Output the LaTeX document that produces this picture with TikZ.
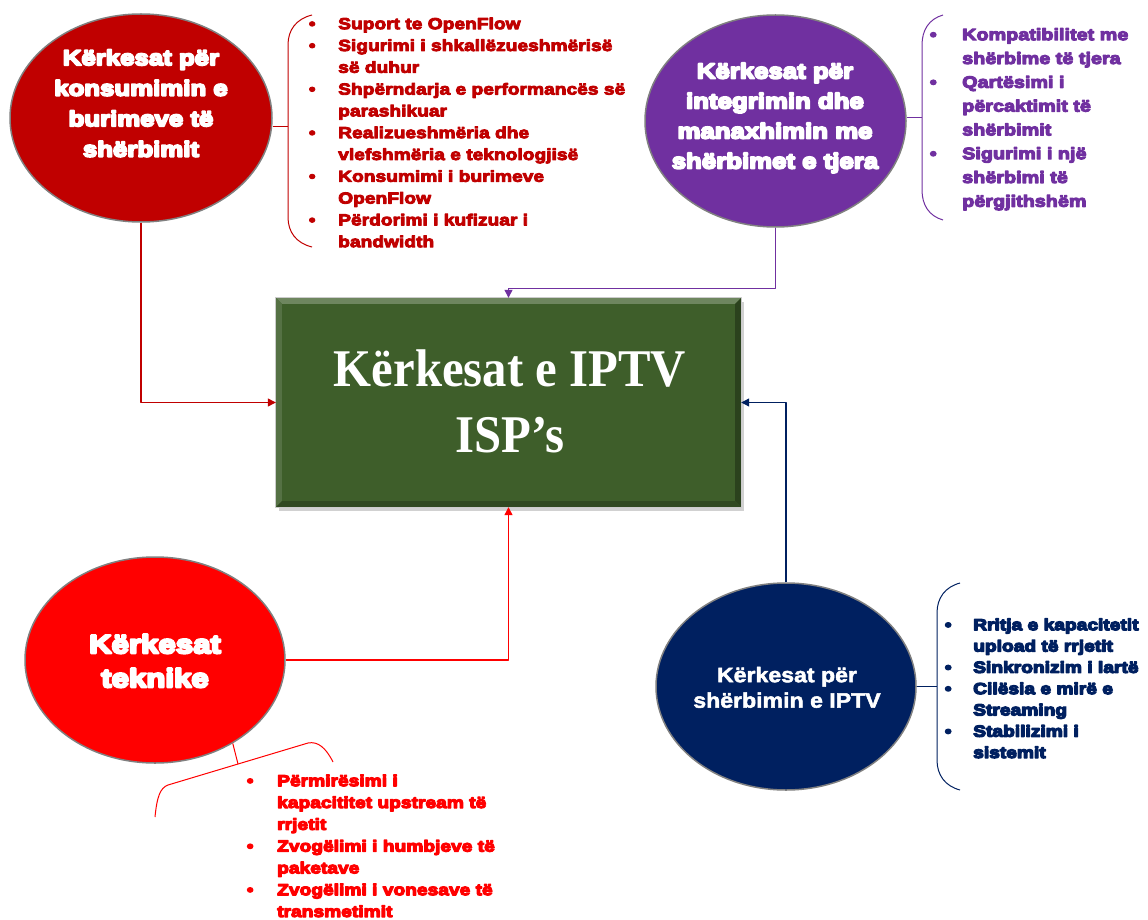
\documentclass[tikz,border=0pt]{standalone}
\usepackage{fontspec}
\usetikzlibrary{shapes.geometric,arrows.meta}
% widened bold sans, a plain bold sans and a bold serif
\newfontfamily\heavyfont{Liberation Sans Bold}[FakeStretch=1.2]
\newfontfamily\boldfont{Liberation Sans Bold}[FakeStretch=1.1]
\newfontfamily\titlefont{Liberation Serif Bold}[FakeStretch=0.92]

% thicken glyphs by stroking their outlines as well as filling them
\newcommand\thicken[1]{\special{pdf:literal direct 2 Tr 1 j #1 w}}
\newcommand\unthicken{\special{pdf:literal direct 0 Tr}}

\definecolor{cdred}{HTML}{C00000}
\definecolor{cpurple}{HTML}{7030A0}
\definecolor{cred}{HTML}{FF0000}
\definecolor{cnavy}{HTML}{002060}
\definecolor{cgreen}{HTML}{3E5E2A}

% bulleted paragraph with hanging indent; \bw is the gap from bullet to text,
% \nl breaks a line inside the same item
\newlength\bw
\newcommand\nl{\hfil\break}
\newcommand\bitem[1]{\noindent\hangindent=\bw\hangafter=1\makebox[\bw][l]{\textbullet}#1\par}

\begin{document}
\begin{tikzpicture}[x=1pt,y=-1pt,line join=round]
\useasboundingbox (0,0) rectangle (1148,920);
\tikzset{
  bubble/.style={ellipse,inner sep=0pt,draw=black!50,line width=1.5pt},
  bubbletext/.style={text=white,align=center,inner sep=0pt,anchor=north},
  heavy/.style={execute at begin node={\thicken{#1}},execute at end node={\unthicken}},
  itemlist/.style={align=left,text width=400pt,inner sep=0pt,anchor=north west,
    execute at begin node={\hyphenpenalty=10000\exhyphenpenalty=10000\thicken{#1}},
    execute at end node={\unthicken}},
  itemlist/.default=1.1,
  link/.style={line width=1.2pt},
  arrowed/.style={-{Triangle[length=8pt,width=8pt]}},
  bracket/.style={line width=1pt}
}

% ---------- central box ----------
\fill[black!18] (279,302) rectangle (744,511);
\node[fill=cgreen,inner sep=0pt,minimum width=465pt,minimum height=209pt] (isp) at (508.5,402.5) {};
\fill[cgreen!75!white] (isp.north west) -- (isp.north east) -- ([shift={(-6,6)}]isp.north east) -- ([shift={(6,6)}]isp.north west) -- cycle;
\fill[cgreen!88!white] (isp.north west) -- ([shift={(6,6)}]isp.north west) -- ([shift={(6,-6)}]isp.south west) -- (isp.south west) -- cycle;
\fill[cgreen!70!black] (isp.north east) -- (isp.south east) -- ([shift={(-6,-6)}]isp.south east) -- ([shift={(-6,6)}]isp.north east) -- cycle;
\fill[cgreen!78!black] (isp.south west) -- (isp.south east) -- ([shift={(-6,-6)}]isp.south east) -- ([shift={(6,-6)}]isp.south west) -- cycle;
\draw[black!20,line width=0.8pt] (isp.north west) rectangle (isp.south east);
\node[bubbletext,font=\titlefont\fontsize{53}{66}\selectfont] (ispT) at (510,339.8)
  {\strut Kërkesat e IPTV\\ISP’s};

% ---------- ellipses ----------
\node[bubble,fill=cdred,minimum width=262pt,minimum height=208pt] (res) at (141,118) {};
\node[bubbletext,heavy=1.9,font=\heavyfont\fontsize{21.5}{30.5}\selectfont] (resT) at (141,43.6)
  {\strut Kërkesat për\\konsumimin e\\burimeve të\\shërbimit};

\node[bubble,fill=cpurple,minimum width=261pt,minimum height=212pt] (int) at (775.5,121) {};
\node[bubbletext,heavy=1.9,font=\heavyfont\fontsize{21.5}{30}\selectfont] (intT) at (775,57.3)
  {\strut Kërkesat për\\integrimin dhe\\manaxhimin me\\shërbimet e tjera};

\node[bubble,fill=cred,minimum width=260pt,minimum height=206pt] (tech) at (155,660) {};
\node[bubbletext,heavy=2.3,font=\heavyfont\fontsize{26}{34}\selectfont] (techT) at (155,629.2)
  {\strut Kërkesat\\teknike};

\node[bubble,fill=cnavy,minimum width=260pt,minimum height=207pt] (svc) at (786,686.5) {};
\node[bubbletext,heavy=0.5,font=\boldfont\fontsize{21}{25.5}\selectfont] (svcT) at (787,664.15)
  {\strut Kërkesat për\\shërbimin e IPTV};

% ---------- connectors into the box ----------
\draw[link,cdred,arrowed] (res.south) |- (isp.west);
\draw[link,cpurple,arrowed] (int.south) -- ++(0,61) -| (isp.north);
\draw[link,cred,arrowed] (tech.east) -| (isp.south);
\draw[link,cnavy,arrowed] (svc.north) |- (isp.east);

% ---------- brackets ----------
\coordinate (resB) at (288,127);
\draw[bracket,cdred] (resB -| res.east) -- (resB);
\draw[bracket,cdred] (312,15) .. controls (296,19) and (288,30) .. (288,45) -- (288,217) .. controls (288,232) and (296,243) .. (312,247);

\coordinate (intB) at (922,118);
\draw[bracket,cpurple] (intB -| int.east) -- (intB);
\draw[bracket,cpurple] (943,15) .. controls (929,19) and (922,30) .. (922,45) -- (922,190) .. controls (922,205) and (929,216) .. (943,220);

\coordinate (svcB) at (937,686.5);
\draw[bracket,cnavy] (svc.east) -- (svcB);
\draw[bracket,cnavy] (960,583) .. controls (945,587) and (937,598) .. (937,613) -- (937,760) .. controls (937,775) and (945,786) .. (960,790);

\coordinate (techB) at (238,764);
\draw[bracket,cred] (tech.-47) -- (techB);
\draw[bracket,cred] (155,817) .. controls (157,797) and (160,788) .. (168,785) -- (308,743) .. controls (318,741) and (326,748) .. (333,762);

% ---------- item lists ----------
\node[itemlist=0.9,text=cdred,font=\heavyfont\fontsize{16}{21.8}\selectfont\setlength\bw{29.4pt}] (resL) at (308.6,13.74) {%
  \bitem{\strut Suport te OpenFlow}
  \bitem{Sigurimi i shkallëzueshmërisë\nl së duhur}
  \bitem{Shpërndarja e performancës së\nl parashikuar}
  \bitem{Realizueshmëria dhe\nl vlefshmëria e teknologjisë}
  \bitem{Konsumimi i burimeve\nl OpenFlow}
  \bitem{Përdorimi i kufizuar i\nl bandwidth}};

\node[itemlist,text=cpurple,font=\heavyfont\fontsize{16.5}{23.8}\selectfont\setlength\bw{32.4pt}] (intL) at (929.6,23.34) {%
  \bitem{\strut Kompatibilitet me\nl shërbime të tjera}
  \bitem{Qartësimi i\nl përcaktimit të\nl shërbimit}
  \bitem{Sigurimi i një\nl shërbimi të\nl përgjithshëm}};

\node[itemlist=1.2,text=cred,font=\heavyfont\fontsize{16}{21.8}\selectfont\setlength\bw{30.4pt}] (techL) at (246.6,770.74) {%
  \bitem{\strut Përmirësimi i\nl kapacititet upstream të\nl rrjetit}
  \bitem{Zvogëlimi i humbjeve të\nl paketave}
  \bitem{Zvogëlimi i vonesave të\nl transmetimit}};

\node[itemlist=1.3,text=cnavy,font=\heavyfont\fontsize{16}{21.3}\selectfont\setlength\bw{28.4pt}] (svcL) at (944.6,615.09) {%
  \bitem{\strut Rritja e kapacitetit\nl upload të rrjetit}
  \bitem{Sinkronizim i lartë}
  \bitem{Cilësia e mirë e\nl Streaming}
  \bitem{Stabilizimi i\nl sistemit}};
\end{tikzpicture}
\end{document}
